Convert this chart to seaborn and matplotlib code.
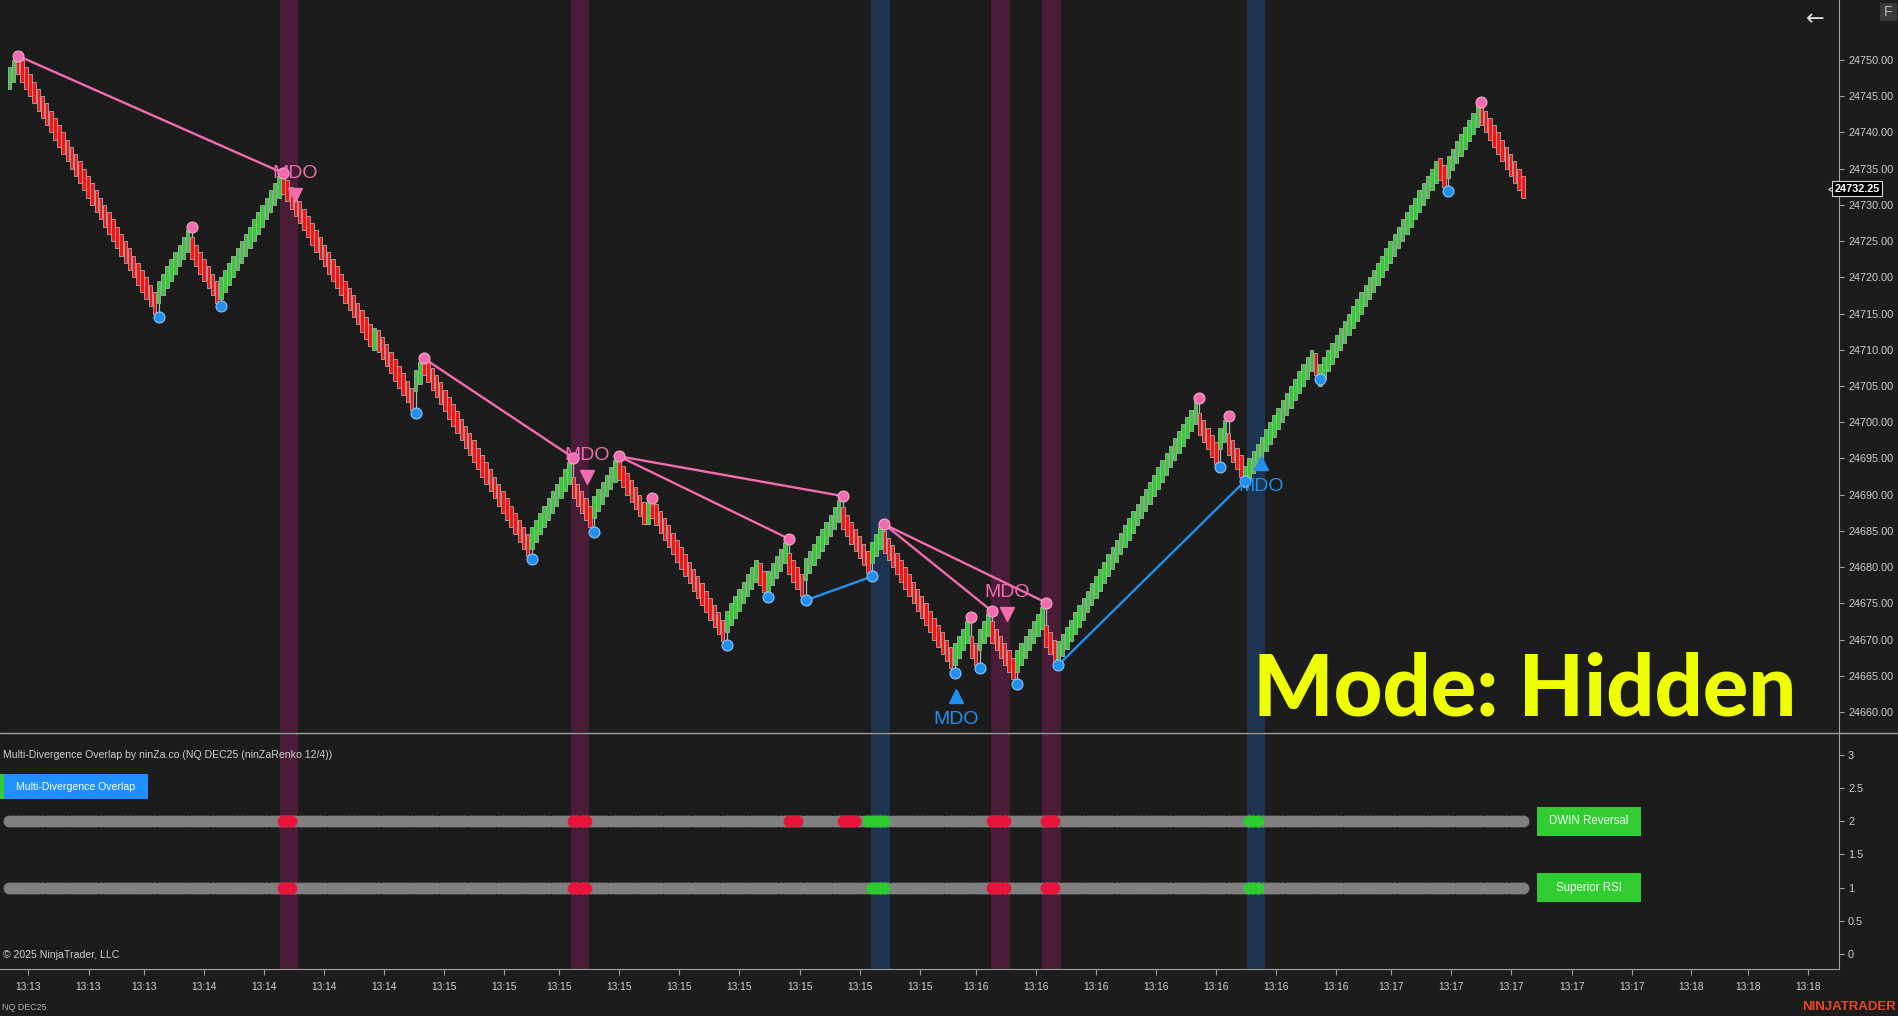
import numpy as np
import pandas as pd
import seaborn as sns
import matplotlib.pyplot as plt
from matplotlib.patches import Rectangle
from matplotlib.lines import Line2D

# ---- data ----
# renko legs: signed brick count, and the close of the last brick of each leg
legs = [2, -34, 8, -7, 15, -22, 1, -9, 2, -26, 10, -5, 6, -7, 1, -18, 8, -2, 5, -4,
        9, -7, 3, -17, 4, -2, 3, -6, 7, -3, 34, -5, 2, -4, 17, -1, 29, -2, 8, -11]
leg_end = [24750.0, 24715.0, 24726.5, 24716.5, 24734.0, 24710.5, 24713.0, 24701.75, 24708.25, 24681.5,
           24694.5, 24685.5, 24694.75, 24686.0, 24689.0, 24669.75, 24681.0, 24676.5, 24683.5, 24676.0,
           24689.25, 24679.25, 24685.5, 24666.0, 24672.5, 24666.5, 24673.5, 24664.5, 24674.5, 24667.0,
           24702.75, 24694.25, 24700.25, 24692.5, 24710.0, 24706.5, 24736.0, 24732.5, 24743.75, 24731.0]
# swing dot (wick extreme) printed on the first brick of a leg
leg_dot = [None, 24750.6, 24714.5, 24727.0, 24716.0, 24734.4, None, None, 24701.3, 24708.8,
           24681.1, 24695.1, 24684.9, 24695.3, None, 24689.6, 24669.2, None, 24675.9, 24683.9,
           24675.4, 24689.8, 24678.7, 24685.9, 24665.4, 24673.1, 24666.0, 24673.9, 24663.9, 24675.1,
           24666.5, 24703.3, 24693.8, 24700.8, 24691.9, None, 24706.0, None, 24731.9, 24744.2]
pink_lines = [(1, 5), (9, 11), (13, 19), (13, 21), (23, 27), (23, 29)]
blue_lines = [(20, 22), (30, 34)]

sig_bar = [68.9, 139.3, 240.6, 228.3, 301.8]
sig_price = [24731.4, 24692.4, 24673.5, 24662.2, 24694.3]
sig_up = [False, False, False, True, True]

pink_bands = [67.4, 137.7, 239.0, 251.3]
blue_bands = [210.1, 300.6]

dwin_red = [(66, 68), (136, 139), (188, 190), (201, 204), (237, 240), (250, 252)]
dwin_green = [(207, 211), (299, 301)]
rsi_red = [(66, 68), (136, 139), (237, 240), (250, 252)]
rsi_green = [(208, 211), (299, 301)]

price_ticks = list(range(24660, 24751, 5))
tick_bars = [4.6, 19.1, 32.4, 46.9, 61.3, 75.8, 90.3, 104.8, 119.3, 132.6, 147.0, 161.5, 176.0,
             190.7, 205.1, 219.6, 233.0, 247.6, 262.1, 276.6, 291.0, 305.4, 320.0, 333.3, 347.7,
             362.2, 376.8, 391.2, 405.6, 419.3, 433.8]
tick_labels = ["13:13"] * 3 + ["13:14"] * 4 + ["13:15"] * 9 + ["13:16"] * 7 + ["13:17"] * 5 + ["13:18"] * 3
last_price = 24732.25

BODY = 3.0
BG = "#1c1c1c"
FG = "#cfcfcf"
PINK = "#f26cb0"
BLUE = "#2290f0"

# ---- build bricks ----
rows = []
bar = 0
leg_start = []
for i, (n, end) in enumerate(zip(legs, leg_end)):
    s = 1 if n > 0 else -1
    k = abs(n)
    leg_start.append(bar)
    for j in range(k):
        c = end - s * (k - 1 - j)
        rows.append({"bar": bar, "open": c - s * BODY, "close": c, "up": s > 0})
        bar += 1
df = pd.DataFrame(rows)

dots = pd.DataFrame([{"bar": leg_start[i], "price": p, "high": legs[i] < 0}
                     for i, p in enumerate(leg_dot) if p is not None])

sns.set_style("dark")
plt.rcParams["font.family"] = ["Liberation Sans", "DejaVu Sans"]

W, H = 1898, 1016
fig = plt.figure(figsize=(W / 100, H / 100), dpi=100, facecolor=BG)
ax = fig.add_axes([0, 1 - 732 / H, 1839 / W, 732 / H])
ax2 = fig.add_axes([0, 1 - 969 / H, 1839 / W, (969 - 733) / H])

PXB = 4.147
xlim = (-9.3 / PXB, (1839 - 9.3) / PXB)
for a in (ax, ax2):
    a.set_facecolor(BG)
    a.set_xlim(*xlim)
    a.grid(False)
    for sp in ("top", "left", "bottom"):
        a.spines[sp].set_visible(False)
    a.spines["right"].set_color("#a0a0a0")
    for c in pink_bands:
        a.axvspan(c - 2.2, c + 2.2, color="#4a1c38", lw=0, zorder=0)
    for c in blue_bands:
        a.axvspan(c - 2.2, c + 2.2, color="#1d3550", lw=0, zorder=0)

ax.set_ylim(24750 - (732 - 60) / 7.244, 24750 + 60 / 7.244)

# wicks on swing bricks
for i, p in enumerate(leg_dot):
    if p is None:
        continue
    b = leg_start[i]
    ax.vlines(b, df.loc[b, "open"], p, color="#b5b5b5", lw=0.9, zorder=2)

ax.bar(df["bar"], df["close"] - df["open"], bottom=df["open"], width=0.86,
       color=np.where(df["up"], "#32cd32", "#ff1010"), edgecolor="#ababab", linewidth=0.6, zorder=3)

for pairs, col in ((pink_lines, PINK), (blue_lines, BLUE)):
    for a_, b_ in pairs:
        ax.plot([leg_start[a_], leg_start[b_]], [leg_dot[a_], leg_dot[b_]], color=col, lw=1.7, zorder=4)

sns.scatterplot(data=dots[dots["high"]], x="bar", y="price", color=PINK, s=62,
                edgecolor="#f5a8cc", linewidth=0.8, zorder=5, ax=ax, legend=False)
sns.scatterplot(data=dots[~dots["high"]], x="bar", y="price", color=BLUE, s=62,
                edgecolor="#8cc4f5", linewidth=0.8, zorder=5, ax=ax, legend=False)

for b, p, up in zip(sig_bar, sig_price, sig_up):
    col = BLUE if up else PINK
    ax.plot(b, p, marker="^" if up else "v", ms=10, color=col, mec=col, zorder=6)
    ax.text(b, p - 3.2 if up else p + 3.0, "MDO", color=col, fontsize=14,
            ha="center", va="center", zorder=6)

ax.yaxis.tick_right()
ax.set_yticks(price_ticks)
ax.set_yticklabels([f"{v:.2f}" for v in price_ticks])
ax.tick_params(axis="y", colors="#a0a0a0", labelcolor=FG, length=3.5, width=0.8, pad=3, labelsize=7.8)
ax.set_xticks([])
ax.set_ylabel("")
ax.set_xlabel("")

# current price tag
ax.text(0.9975, last_price, "24732.25", transform=ax.get_yaxis_transform(),
        ha="left", va="center", color="white", fontsize=7.8, fontweight="bold", zorder=10,
        bbox=dict(boxstyle="square,pad=0.25", fc="black", ec="#d8d8d8", lw=0.8), clip_on=False)
ax.plot([0.9968], [last_price], marker="<", ms=7, color="black", mec="#d8d8d8", mew=0.8,
        transform=ax.get_yaxis_transform(), clip_on=False, zorder=9)

# ---- lower indicator panel ----
ax2.set_ylim(-0.226, 3.33)
allbars = df["bar"].to_numpy()
for yv, reds, greens in ((2, dwin_red, dwin_green), (1, rsi_red, rsi_green)):
    sns.scatterplot(x=allbars, y=np.full(len(allbars), yv), color="#808080", s=74,
                    linewidth=0, ax=ax2, legend=False, zorder=3)
    for spans, col in ((reds, "#e8143c"), (greens, "#2ecc2e")):
        for s_, e_ in spans:
            xs = np.arange(s_, e_ + 1)
            sns.scatterplot(x=xs, y=np.full(len(xs), yv), color=col, s=74,
                            linewidth=0, ax=ax2, legend=False, zorder=4)

ax2.yaxis.tick_right()
yt = [0, 0.5, 1, 1.5, 2, 2.5, 3]
ax2.set_yticks(yt)
ax2.set_yticklabels([f"{v:g}" for v in yt])
ax2.tick_params(axis="y", colors="#a0a0a0", labelcolor=FG, length=3.5, width=0.8, pad=3, labelsize=7.8)
ax2.spines["bottom"].set_visible(True)
ax2.spines["bottom"].set_color("#a0a0a0")
ax2.set_xticks(tick_bars)
ax2.set_xticklabels(tick_labels)
ax2.tick_params(axis="x", colors="#a0a0a0", labelcolor=FG, length=4, width=0.8, pad=5, labelsize=7.4,
                bottom=True, direction="out")
ax2.set_xlabel("")
ax2.set_ylabel("")

fig.add_artist(Line2D([0, 1], [1 - 733 / H, 1 - 733 / H], color="#a0a0a0", lw=1))


def box(x0, y0, x1, y1, col):
    fig.add_artist(Rectangle((x0 / W, 1 - y1 / H), (x1 - x0) / W, (y1 - y0) / H,
                             transform=fig.transFigure, fc=col, ec="none"))


box(0, 774, 4, 799, "#32cd32")
box(4, 774, 148, 799, "#1e90ff")
fig.text(76 / W, 1 - 787 / H, "Multi-Divergence Overlap", color="white", fontsize=7.6, ha="center", va="center")
box(1537, 807, 1641, 836, "#32cd32")
fig.text(1589 / W, 1 - 821.5 / H, "DWIN Reversal", color="#f0fff0", fontsize=8.3, ha="center", va="center")
box(1537, 873, 1641, 902, "#32cd32")
fig.text(1589 / W, 1 - 887.5 / H, "Superior RSI", color="#f0fff0", fontsize=8.3, ha="center", va="center")
box(1880, 3, 1897, 21, "#3a3a3a")
fig.text(1888.5 / W, 1 - 12 / H, "F", color="#b8b8b8", fontsize=10, ha="center", va="center")

fig.text(3 / W, 1 - 755 / H, "Multi-Divergence Overlap by ninZa.co (NQ DEC25 (ninZaRenko 12/4))",
         color=FG, fontsize=7.6, ha="left", va="center")
fig.text(3 / W, 1 - 955.5 / H, "\u00a9 2025 NinjaTrader, LLC", color=FG, fontsize=7.6, ha="left", va="center")
fig.text(2 / W, 1 - 1007 / H, "NQ DEC25", color="#b0b0b0", fontsize=6.4, ha="left", va="center")
fig.text(1896 / W, 1 - 1007 / H, "NINJATRADER", color="#e8482a", fontsize=9.5, fontweight="bold",
         ha="right", va="center")
fig.text(1815 / W, 1 - 19 / H, "\u2190", color="#e0e0e0", fontsize=16, ha="center", va="center",
         family=["DejaVu Sans"])

fig.text(1253 / W, 1 - 716 / H, "Mode: Hidden", color="#eeff00", fontsize=61, fontweight="black",
         family=["Lato", "DejaVu Sans"], ha="left", va="baseline")

plt.savefig("out.png", dpi=100, facecolor=BG)
